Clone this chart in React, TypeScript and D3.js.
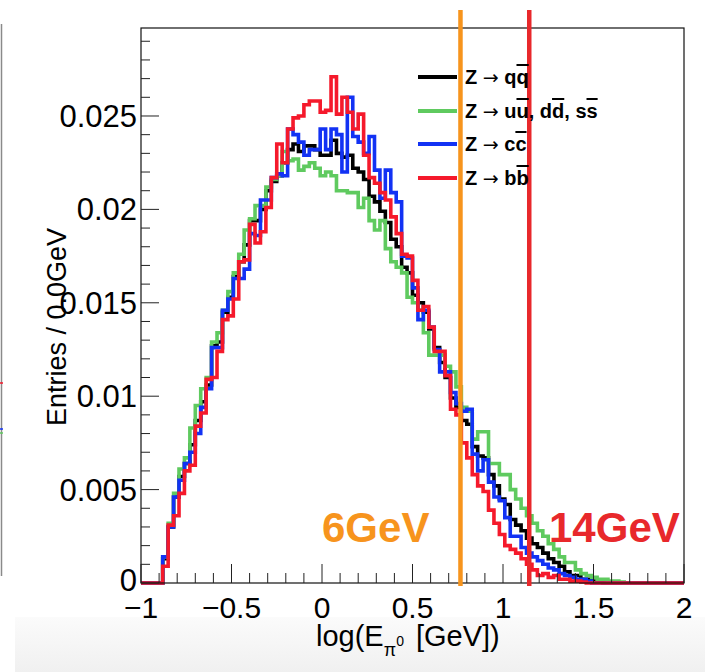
import React from "react";
import * as d3 from "d3";

// ---------- data ----------
const binLow = -1;
const binWidth = 0.03;

const seriesNames = ["Z \u2192 qq\u0304", "Z \u2192 uu\u0304, dd\u0304, ss\u0304", "Z \u2192 cc\u0304", "Z \u2192 bb\u0304"];

const blackVals = [
  0, 0, 0, 0, 0.0013, 0.003, 0.0046, 0.0057, 0.0064, 0.0074,
  0.0087, 0.0097, 0.0106, 0.0127, 0.0129, 0.0145, 0.0153, 0.0164, 0.0172, 0.0181,
  0.0194, 0.0194, 0.02, 0.021, 0.0215, 0.0218, 0.0225, 0.0232, 0.0235, 0.0231,
  0.0234, 0.0234, 0.0232, 0.0229, 0.0229, 0.0237, 0.023, 0.0228, 0.0229, 0.0222,
  0.022, 0.0216, 0.0207, 0.0204, 0.0199, 0.0193, 0.0184, 0.018, 0.0169, 0.0166,
  0.0154, 0.015, 0.0145, 0.0136, 0.0126, 0.0118, 0.011, 0.0099, 0.0094, 0.0087,
  0.0085, 0.0073, 0.0068, 0.0067, 0.0058, 0.0052, 0.0045, 0.0042, 0.0034, 0.0031,
  0.0028, 0.0024, 0.0021, 0.0019, 0.0016, 0.0013, 0.0011, 0.0009, 0.0006, 0.0004,
  0.0004, 0.0002, 0.0002, 0.0001, 0.0001, 0, 0, 0, 0, 0,
  0, 0, 0, 0, 0, 0, 0, 0, 0, 0,
];

const greenVals = [
  0, 0, 0, 0, 0.0014, 0.0032, 0.0048, 0.0061, 0.0067, 0.0083,
  0.0095, 0.0104, 0.011, 0.0129, 0.0134, 0.0146, 0.0156, 0.0166, 0.0176, 0.0189,
  0.0195, 0.0202, 0.0202, 0.0212, 0.0216, 0.0218, 0.0231, 0.0226, 0.0227, 0.0221,
  0.0223, 0.0225, 0.0222, 0.0218, 0.022, 0.0218, 0.021, 0.021, 0.0209, 0.0209,
  0.0201, 0.0206, 0.0194, 0.0189, 0.0194, 0.0179, 0.0172, 0.0169, 0.0166, 0.0153,
  0.015, 0.0146, 0.0134, 0.0122, 0.0122, 0.0122, 0.0116, 0.0113, 0.0105, 0.0094,
  0.0092, 0.0077, 0.0081, 0.0081, 0.0064, 0.0064, 0.0058, 0.0058, 0.005, 0.0045,
  0.004, 0.0036, 0.0032, 0.0028, 0.0025, 0.0021, 0.0018, 0.0014, 0.0011, 0.0011,
  0.0007, 0.0005, 0.0004, 0.0003, 0.0002, 0.0002, 0.0001, 0.0001, 0.00005, 0,
  0, 0, 0, 0, 0, 0, 0, 0, 0, 0,
];

const blueVals = [
  0, 0, 0, 0, 0.0014, 0.003, 0.0046, 0.0055, 0.0064, 0.007,
  0.008, 0.0094, 0.0104, 0.0126, 0.0126, 0.0146, 0.0152, 0.0163, 0.0163, 0.0168,
  0.0187, 0.0186, 0.0205, 0.0205, 0.0217, 0.0219, 0.0218, 0.0243, 0.024, 0.0236,
  0.0229, 0.0232, 0.0232, 0.0243, 0.0232, 0.0243, 0.024, 0.022, 0.026, 0.0239,
  0.0236, 0.023, 0.0239, 0.0221, 0.0206, 0.0221, 0.0209, 0.0204, 0.0175, 0.0174,
  0.0158, 0.0141, 0.0146, 0.0137, 0.0125, 0.0113, 0.0113, 0.0102, 0.0096, 0.0092,
  0.0093, 0.0069, 0.006, 0.0066, 0.0054, 0.0046, 0.0044, 0.0035, 0.0025, 0.0025,
  0.0019, 0.0016, 0.0014, 0.0012, 0.001, 0.0008, 0.0007, 0.0005, 0.0004, 0.0003,
  0.0002, 0.0002, 0.0001, 0, 0, 0, 0, 0, 0, 0,
  0, 0, 0, 0, 0, 0, 0, 0, 0, 0,
];

const redVals = [
  0, 0, 0, 0, 0.0009, 0.0031, 0.0036, 0.0048, 0.006, 0.0063,
  0.0084, 0.0091, 0.0109, 0.011, 0.0124, 0.0141, 0.0143, 0.0152, 0.0172, 0.0173,
  0.0192, 0.0182, 0.0188, 0.0201, 0.0217, 0.0235, 0.0225, 0.0243, 0.0249, 0.025,
  0.0256, 0.0258, 0.0258, 0.0252, 0.0253, 0.0271, 0.0251, 0.026, 0.0252, 0.0243,
  0.0251, 0.0229, 0.0217, 0.0214, 0.0209, 0.0205, 0.0196, 0.0187, 0.0176, 0.0175,
  0.0162, 0.0146, 0.0148, 0.0137, 0.0124, 0.0124, 0.0111, 0.0093, 0.009, 0.0075,
  0.0067, 0.0058, 0.0052, 0.0049, 0.0039, 0.0032, 0.0026, 0.002, 0.0018, 0.0016,
  0.0013, 0.001, 0.0007, 0.0004, 0.0005, 0.0003, 0.0004, 0.0002, 0.0002, 0.0001,
  0.0001, 0.00005, 0, 0, 0, 0, 0, 0, 0, 0,
  0, 0, 0, 0, 0, 0, 0, 0, 0, 0,
];

const xTicks = [-1, -0.5, 0, 0.5, 1, 1.5, 2];
const xTickLabels = ["\u22121", "\u22120.5", "0", "0.5", "1", "1.5", "2"];
const yTicks = [0, 0.005, 0.01, 0.015, 0.02, 0.025];
const yTickLabels = ["0", "0.005", "0.01", "0.015", "0.02", "0.025"];

const cutValues = [0.765, 1.145];
const cutLabels = ["6GeV", "14GeV"];

// ---------- layout / style ----------
const W = 705, H = 672;
const X0 = 141, X1 = 684, Y0 = 583, Y1 = 28;
const FONT = "'Liberation Sans', Arial, Helvetica, sans-serif";

const colors = ["#000000", "#5fca5f", "#1232f4", "#f5192b"];
const cutColors = ["#f7941d", "#e8282b"];

export default function App() {
  const x = d3.scaleLinear().domain([-1, 2]).range([X0, X1]);
  const y = d3.scaleLinear().domain([0, 0.02971]).range([Y0, Y1]);

  const allSeries = [blackVals, greenVals, blueVals, redVals];
  const line = d3
    .line<[number, number]>()
    .x((d) => x(d[0]))
    .y((d) => y(d[1]))
    .curve(d3.curveStepAfter);

  const makePath = (vals: number[]) => {
    const pts: [number, number][] = vals.map((v, i) => [binLow + i * binWidth, v]);
    pts.push([binLow + vals.length * binWidth, vals[vals.length - 1]]);
    return line(pts) || "";
  };

  const xMinor = d3.range(-1, 2.0001, 0.1);
  const yMinor = d3.range(0, 0.02971, 0.001);

  const legendY = [77, 111, 144, 178];

  const legendText = (i: number) => {
    const base = { fontFamily: FONT, fontWeight: 700, fontSize: 20, fill: "#000" } as const;
    const ov = { textDecoration: "overline" } as React.CSSProperties;
    const parts: React.ReactNode[] = [];
    if (i === 0) parts.push(<tspan key="a">q</tspan>, <tspan key="b" style={ov}>q</tspan>);
    if (i === 1)
      parts.push(
        <tspan key="a">u</tspan>, <tspan key="b" style={ov}>u</tspan>, <tspan key="c">, d</tspan>,
        <tspan key="d" style={ov}>d</tspan>, <tspan key="e">, s</tspan>, <tspan key="f" style={ov}>s</tspan>
      );
    if (i === 2) parts.push(<tspan key="a">c</tspan>, <tspan key="b" style={ov}>c</tspan>);
    if (i === 3) parts.push(<tspan key="a">b</tspan>, <tspan key="b" style={ov}>b</tspan>);
    return (
      <text x={465} y={legendY[i] + 7} {...base} xmlSpace="preserve">
        <tspan>Z </tspan>
        <tspan fontWeight={400} fontFamily="'DejaVu Sans', sans-serif" fontSize={19}>{"\u2192"}</tspan>
        <tspan> </tspan>
        {parts}
      </text>
    );
  };

  return (
    <svg width={W} height={H} style={{ position: "absolute", left: 0, top: 0, background: "#fff" }}>
      <defs>
        <linearGradient id="bottomGrad" x1="0" y1="0" x2="0" y2="1">
          <stop offset="0" stopColor="#fbfbfb" />
          <stop offset="1" stopColor="#f0f0f0" />
        </linearGradient>
      </defs>
      <rect x={0} y={0} width={W} height={H} fill="#fff" />
      <rect x={15} y={617} width={W - 15} height={H - 617} fill="url(#bottomGrad)" />

      {/* neighbouring panel edge */}
      <line x1={1.5} x2={1.5} y1={24} y2={576} stroke="#8a8a8a" strokeWidth={1.5} />
      <line x1={0} x2={3} y1={383} y2={383} stroke="#f5192b" strokeWidth={1.5} />
      <line x1={0} x2={3} y1={429} y2={429} stroke="#1232f4" strokeWidth={1.5} />
      <line x1={0} x2={3} y1={433} y2={433} stroke="#5fca5f" strokeWidth={1.5} />

      {/* histograms */}
      {allSeries.map((vals, i) => (
        <path key={i} d={makePath(vals)} fill="none" stroke={colors[i]} strokeWidth={3.6} strokeLinejoin="miter" />
      ))}

      {/* frame */}
      <rect x={X0} y={Y1} width={X1 - X0} height={Y0 - Y1} fill="none" stroke="#111" strokeWidth={1.2} />

      {/* x ticks */}
      {xMinor.map((v, i) => {
        const major = Math.abs(v * 2 - Math.round(v * 2)) < 1e-6;
        return (
          <line key={"xm" + i} x1={x(v)} x2={x(v)} y1={Y0} y2={Y0 - (major ? 19 : 10)} stroke="#222" strokeWidth={1} />
        );
      })}
      {xTicks.map((v, i) => (
        <text key={"xl" + i} x={x(v)} y={618} textAnchor="middle" fontFamily={FONT} fontSize={30} fill="#000">
          {xTickLabels[i]}
        </text>
      ))}

      {/* y ticks */}
      {yMinor.map((v, i) => {
        const major = i % 5 === 0;
        return (
          <line key={"ym" + i} x1={X0} x2={X0 + (major ? 18 : 9)} y1={y(v)} y2={y(v)} stroke="#222" strokeWidth={1} />
        );
      })}
      {yTicks.map((v, i) => (
        <text key={"yl" + i} x={137} y={y(v) + (i === 0 ? 8 : 11)} textAnchor="end" fontFamily={FONT} fontSize={31} fill="#000">
          {yTickLabels[i]}
        </text>
      ))}

      {/* axis titles */}
      <text
        transform={`translate(66,${327}) rotate(-90)`}
        textAnchor="middle"
        fontFamily={FONT}
        fontSize={27}
        fill="#000"
      >
        Entries / 0.0GeV
      </text>
      <text x={316} y={646} fontFamily={FONT} fontSize={29} fill="#000">
        <tspan>log(E</tspan>
        <tspan fontSize={18} dy={10}>{"\u03c0"}</tspan>
        <tspan fontSize={14} dy={-10}>0</tspan>
        <tspan dx={12}>{"[GeV])"}</tspan>
      </text>

      {/* cut lines */}
      {cutValues.map((v, i) => (
        <line key={"cut" + i} x1={x(v)} x2={x(v)} y1={10} y2={586} stroke={cutColors[i]} strokeWidth={4.5} />
      ))}
      <text x={322} y={542} fontFamily={FONT} fontWeight={700} fontSize={42} fill={cutColors[0]}>
        {cutLabels[0]}
      </text>
      <text x={549} y={542} fontFamily={FONT} fontWeight={700} fontSize={42} fill={cutColors[1]}>
        {cutLabels[1]}
      </text>

      {/* legend */}
      {seriesNames.map((name, i) => (
        <g key={"lg" + i}>
          <title>{name}</title>
          <line x1={418} x2={457} y1={legendY[i]} y2={legendY[i]} stroke={colors[i]} strokeWidth={4} />
          {legendText(i)}
        </g>
      ))}
    </svg>
  );
}
